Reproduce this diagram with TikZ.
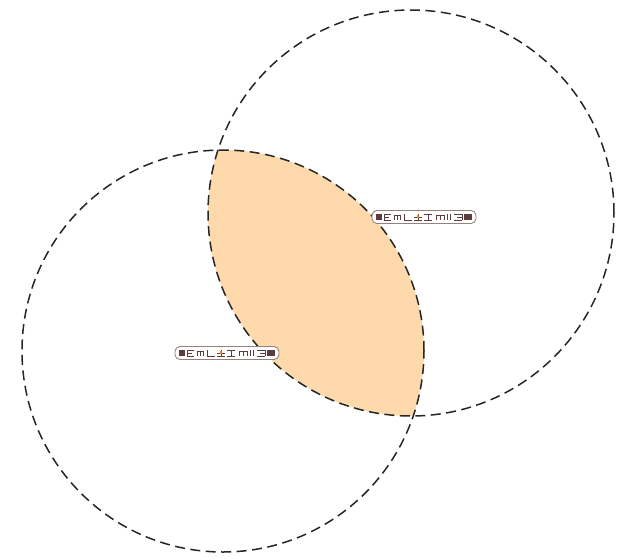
\documentclass[tikz,border=0pt]{standalone}
\begin{document}
\begin{tikzpicture}[x=1pt,y=-1pt,
  circ/.style={draw=black!85, line width=1.5pt, dash pattern=on 10pt off 5.5pt},
  lens/.style={fill=peach},
  labelbox/.style={draw=lblgray, fill=white, line width=0.9pt, rounded corners=5pt, minimum width=104pt, minimum height=13pt, inner sep=0pt},
  gl/.style={draw=lblbrown, line width=1pt},
  glyphs/.pic={
    \fill[lblbrown] (-48,-3) rectangle (-42,3);
    \path[gl] (-40,-3)--(-33,-3) (-40,0)--(-35,0) (-40,3)--(-33,3) (-40,-3)--(-40,3);
    \path[gl] (-30,3)--(-30,-2)--(-27,-2)--(-27,3) (-27,-2)--(-24,-2)--(-24,3);
    \path[gl] (-20,-3)--(-20,3)--(-12,3);
    \path[gl] (-10,0)--(-2,0) (-6,-3)--(-6,3) (-10,3)--(-2,3);
    \fill[orange!70!brown] (-7,-2) rectangle (-5,1);
    \path[gl] (0,-3)--(8,-3) (4,-3)--(4,3) (0,3)--(8,3);
    \path[gl] (12,3)--(12,-2)--(16,-2)--(16,3) (16,-2)--(20,-2)--(20,3);
    \path[gl] (23,-3)--(23,3) (26,-3)--(26,3);
    \path[gl] (30,-3)--(38,-3) (33,0)--(38,0) (30,3)--(38,3) (38,-3)--(38,3);
    \fill[lblbrown] (40,-3) rectangle (48,3);
  }]
\definecolor{peach}{RGB}{253,217,172}
\definecolor{lblgray}{RGB}{150,130,125}
\definecolor{lblbrown}{RGB}{95,60,60}
\useasboundingbox (0,0) rectangle (619,558);
\coordinate (c1) at (223,351);
\coordinate (c2) at (411,213);
\begin{scope}
  \clip (c1) circle (201pt);
  \fill[lens] (c2) circle (203pt);
\end{scope}
\draw[circ] (c1) circle (201pt);
\draw[circ] (c2) circle (203pt);
\node[labelbox] (l1) at (227,353) {};
\pic at (l1.center) {glyphs};
\node[labelbox] (l2) at (424,217) {};
\pic at (l2.center) {glyphs};
\end{tikzpicture}
\end{document}
